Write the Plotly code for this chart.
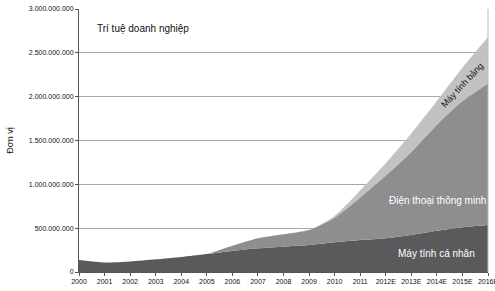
import plotly.graph_objects as go

years = ["2000", "2001", "2002", "2003", "2004", "2005", "2006", "2007", "2008",
         "2009", "2010", "2011", "2012E", "2013E", "2014E", "2015E", "2016E"]
pc = [137e6, 108e6, 120e6, 145e6, 172e6, 205e6, 240e6, 270e6, 289e6,
      308e6, 340e6, 365e6, 385e6, 422e6, 470e6, 510e6, 536e6]
smartphone = [0, 0, 0, 0, 0, 0, 60e6, 114e6, 141e6,
              171e6, 280e6, 485e6, 715e6, 948e6, 1210e6, 1440e6, 1614e6]
tablet = [0, 0, 0, 0, 0, 0, 0, 0, 0,
          0, 20e6, 80e6, 140e6, 210e6, 270e6, 380e6, 530e6]
ytick_vals = [0, 500e6, 1000e6, 1500e6, 2000e6, 2500e6, 3000e6]
ytick_text = ["0", "500.000.000", "1.000.000.000", "1.500.000.000",
              "2.000.000.000", "2.500.000.000", "3.000.000.000"]

FONT = "Liberation Sans, Arial, sans-serif"

fig = go.Figure()
for name, vals, col in [("Máy tính cá nhân", pc, "#5a5a5c"),
                        ("Điện thoại thông minh", smartphone, "#8e8e90"),
                        ("Máy tính bảng", tablet, "#c2c2c2")]:
    fig.add_trace(go.Scatter(x=years, y=vals, stackgroup="one", mode="lines",
                             line=dict(width=0, color=col, shape="spline", smoothing=0.6),
                             fillcolor=col, name=name, hoverinfo="x+y"))

fig.add_annotation(x=0.04, y=0.925, xref="paper", yref="paper", text="Trí tuệ doanh nghiệp",
                   showarrow=False, xanchor="left", yanchor="middle",
                   font=dict(family=FONT, size=10, color="#111"))
fig.add_annotation(x="2013E", y=810e6, text="Điện thoại thông minh", showarrow=False,
                   xshift=26, font=dict(family=FONT, size=10, color="white"))
fig.add_annotation(x="2014E", y=215e6, text="Máy tính cá nhân", showarrow=False,
                   font=dict(family=FONT, size=10, color="white"))
fig.add_annotation(x="2015E", y=2130e6, text="Máy tính bảng", showarrow=False,
                   textangle=-47, font=dict(family=FONT, size=9, color="#111"))

fig.update_layout(
    width=495, height=291,
    margin=dict(l=79, r=7, t=9, b=19),
    paper_bgcolor="white", plot_bgcolor="white",
    showlegend=False,
    font=dict(family=FONT, size=7, color="#111"),
)
fig.update_xaxes(type="category", range=[0, 16], showgrid=False, automargin=False,
                 showline=True, linecolor="#555", linewidth=1,
                 ticks="outside", ticklen=3, tickcolor="#555",
                 tickangle=0, tickfont=dict(size=7, family=FONT, color="#111"))
fig.update_yaxes(range=[0, 3000e6], tickvals=ytick_vals, ticktext=ytick_text,
                 automargin=False,
                 showgrid=True, gridcolor="#a8a8a8", gridwidth=1,
                 showline=True, linecolor="#555", linewidth=1,
                 ticks="outside", ticklen=3, tickcolor="#555",
                 tickfont=dict(size=7, family=FONT, color="#111"), zeroline=False,
                 title=dict(text="Đơn vị", font=dict(size=9, family=FONT, color="#111"),
                            standoff=13))
fig.add_shape(type="line", xref="paper", yref="paper", x0=1, x1=1, y0=0, y1=1,
              line=dict(color="#bbbbbb", width=1))

fig.write_html("out.html", config={"displayModeBar": False},
               post_script="document.body.style.margin='0';document.body.style.overflow='hidden';")
